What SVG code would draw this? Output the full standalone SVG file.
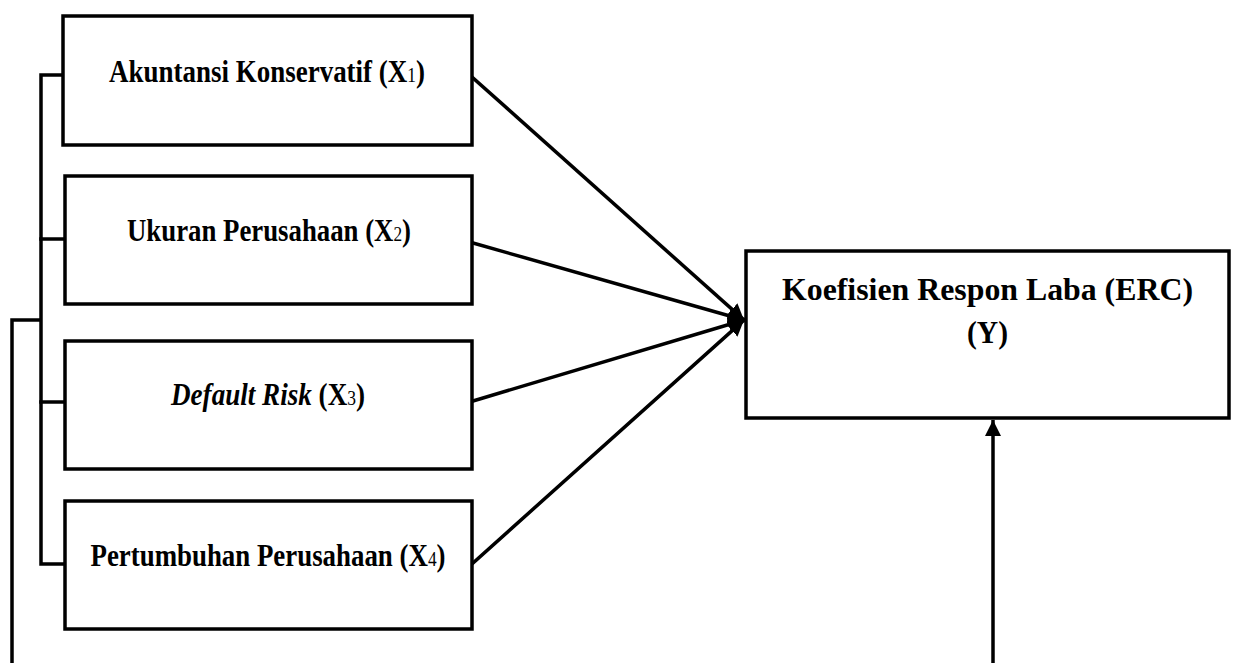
<svg xmlns="http://www.w3.org/2000/svg" width="1237" height="663" viewBox="0 0 1237 663">
<style>
.box{fill:#fff;stroke:#000;stroke-width:3.5}
.ln{fill:none;stroke:#000;stroke-width:3.5;stroke-linecap:square}
.t{font-family:"Liberation Serif","Times New Roman",serif;font-weight:bold;font-size:31px;fill:#000;text-anchor:middle}
.sub{font-size:20px;font-weight:normal}
</style>
<defs>
<marker id="ah" markerUnits="userSpaceOnUse" markerWidth="18" markerHeight="16" refX="16" refY="8" orient="auto">
<path d="M0,0 L16,8 L0,16 Z" fill="#000"/>
</marker>
</defs>
<rect width="1237" height="663" fill="#fff"/>
<g id="connectors">
<polyline class="ln" points="64,75 41,75 41,564 64,564"/>
<line class="ln" x1="41" y1="239" x2="64" y2="239"/>
<line class="ln" x1="41" y1="402" x2="64" y2="402"/>
<polyline class="ln" points="12,663 12,320 41,320" style="stroke-linecap:butt"/>
<line class="ln" x1="472" y1="77" x2="744" y2="320" marker-end="url(#ah)"/>
<line class="ln" x1="473" y1="243" x2="744" y2="320" marker-end="url(#ah)"/>
<line class="ln" x1="473" y1="401" x2="744" y2="320" marker-end="url(#ah)"/>
<line class="ln" x1="473" y1="563" x2="744" y2="320" marker-end="url(#ah)"/>
<line class="ln" x1="993" y1="663" x2="993" y2="420" marker-end="url(#ah)" style="stroke-linecap:butt"/>
</g>
<g id="x1">
<rect class="box" x="63" y="16" width="409" height="129"/>
<text class="t" x="267" y="82" textLength="316" lengthAdjust="spacingAndGlyphs">Akuntansi Konservatif (X<tspan class="sub">1</tspan>)</text>
</g>
<g id="x2">
<rect class="box" x="65" y="176" width="407" height="128"/>
<text class="t" x="269" y="241" textLength="284" lengthAdjust="spacingAndGlyphs">Ukuran Perusahaan (X<tspan class="sub">2</tspan>)</text>
</g>
<g id="x3">
<rect class="box" x="65" y="341" width="407" height="128"/>
<text class="t" x="268" y="405" textLength="194" lengthAdjust="spacingAndGlyphs"><tspan font-style="italic">Default Risk</tspan> (X<tspan class="sub">3</tspan>)</text>
</g>
<g id="x4">
<rect class="box" x="65" y="501" width="407" height="128"/>
<text class="t" x="268" y="566" textLength="355" lengthAdjust="spacingAndGlyphs">Pertumbuhan Perusahaan (X<tspan class="sub">4</tspan>)</text>
</g>
<g id="y">
<rect class="box" x="746" y="251" width="483" height="167"/>
<text class="t" x="987.5" y="300" textLength="411" lengthAdjust="spacingAndGlyphs">Koefisien Respon Laba (ERC)</text>
<text class="t" x="987.5" y="343" textLength="41" lengthAdjust="spacingAndGlyphs">(Y)</text>
</g>
</svg>
